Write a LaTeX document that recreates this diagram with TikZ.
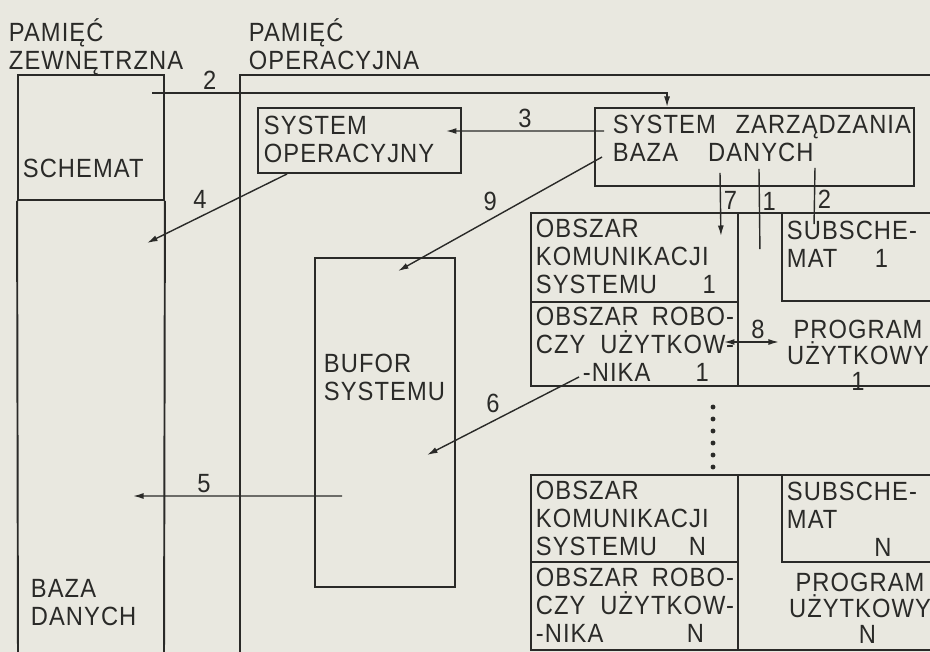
\documentclass[tikz,border=0pt]{standalone}
\usepackage{fontspec}
\setmainfont{Liberation Sans}[LetterSpace=4, FakeStretch=0.9]
\usetikzlibrary{arrows.meta}
\definecolor{paper}{RGB}{233,232,224}
\definecolor{ink}{RGB}{42,42,40}

\begin{document}
\begin{tikzpicture}[x=0.02cm, y=-0.02cm, >={Latex[length=6pt,width=3.4pt]},
        line width=1.1pt, color=ink, font=\fontsize{15}{16}\selectfont,
        box/.style={draw, inner sep=0pt},
        txt/.style={anchor=north west, align=left, inner sep=0pt},
        lab/.style={inner sep=1.5pt},
        conn/.style={line width=0.8pt}]
        \useasboundingbox[fill=paper] (0,0) rectangle (930,652);
        \clip (0,0) rectangle (930,652);

        % Left: external memory
        \node[txt] (tzew) at (8,18) {PAMIĘĆ\\ZEWNĘTRZNA};
        \node[box, minimum width=2.92cm, minimum height=2.5cm] (schemat) at (91,137.5) {};
        \draw (schemat.south west) -- (18,660);
        \draw (schemat.south east) -- (164,660);
        \node[txt] (tschemat) at (22,158) {SCHEMAT};
        \node[txt] (tbaza) at (30,578) {BAZA\\DANYCH};

        % Middle: operational memory
        \node[txt] (toper) at (248,18) {PAMIĘĆ\\OPERACYJNA};
        \draw (240,660) -- (240,75) -- (940,75);
        \node[box, minimum width=4.06cm, minimum height=1.3cm] (sysop) at (359.5,140.5) {};
        \node[txt] (tsysop) at (263,115) {SYSTEM\\OPERACYJNY};
        \node[box, minimum width=6.38cm, minimum height=1.56cm] (dbms) at (754.5,147) {};
        \node[txt, text width=5.96cm] (tdbms) at (612,114) {SYSTEM\hfill ZARZĄDZANIA\\BAZA\hspace{0.6cm}DANYCH};
        \node[box, minimum width=2.8cm, minimum height=6.58cm] (bufor) at (385,422.5) {};
        \node[txt] (tbufor) at (323,353) {BUFOR\\SYSTEMU};

        % Right: user 1
        \node[box, minimum width=8.38cm, minimum height=3.46cm] (blok1) at (740.5,299.5) {};
        \node[box, minimum width=4.14cm, minimum height=1.78cm] (kom1) at (634.5,257.5) {};
        \node[box, minimum width=4.14cm, minimum height=1.68cm] (rob1) at (634.5,344) {};
        \node[box, minimum width=3.36cm, minimum height=1.76cm] (sub1) at (866,257) {};
        \node[txt, text width=3.6cm] (tkom1) at (535,218) {OBSZAR\\KOMUNIKACJI\\SYSTEMU\hfill 1};
        \node[txt, text width=3.96cm] (trob1) at (535,306) {OBSZAR\hfill ROBO-\\CZY\hfill UŻYTKOW-\\\hspace*{0.94cm}-NIKA\hfill 1\hspace*{0.5cm}};
        \node[txt] (tsub1) at (786,220) {SUBSCHE-\\MAT\hspace{0.75cm}1};
        \node[anchor=north, align=center, inner sep=0pt] (tprog1) at (858,319) {PROGRAM\\[-1pt]UŻYTKOWY\\[-1.5pt]1};

        \foreach \y in {407,419,...,467}
            \fill (713,\y) circle (1.4pt);

        % Right: user N
        \node[box, minimum width=8.38cm, minimum height=3.5cm] (blokN) at (740.5,562.5) {};
        \node[box, minimum width=4.14cm, minimum height=1.74cm] (komN) at (634.5,518.5) {};
        \node[box, minimum width=4.14cm, minimum height=1.76cm] (robN) at (634.5,606) {};
        \node[box, minimum width=3.36cm, minimum height=1.74cm] (subN) at (866,518.5) {};
        \node[txt, text width=3.4cm] (tkomN) at (535,480) {OBSZAR\\KOMUNIKACJI\\SYSTEMU\hfill N};
        \node[txt, text width=3.96cm] (trobN) at (535,567) {OBSZAR\hfill ROBO-\\CZY\hfill UŻYTKOW-\\-NIKA\hfill N\hspace*{0.6cm}};
        \node[txt] (tsubN) at (786,481) {SUBSCHE-\\MAT\\\hspace*{1.75cm}N};
        \node[anchor=north, align=center, inner sep=0pt] (tprogN) at (860,572) {PROGRAM\\[-1pt]UŻYTKOWY\\[-1.5pt]\hspace*{0.3cm}N};

        % Connectors
        \coordinate (s2) at (152,93);
        \coordinate (e4) at (147,243);
        \coordinate (e5) at (133,496);
        \draw[conn, ->] (s2) -| ([xshift=1.46cm]dbms.north west) node[lab, pos=0.056, above] (l2) {2};
        \draw[conn, ->] ([xshift=0.2cm,yshift=0.32cm]dbms.west) -- ([xshift=-0.32cm,yshift=0.19cm]sysop.east) node[lab, pos=0.5, above] (l3) {3};
        \draw[conn, ->] ([xshift=0.6cm]sysop.south west) -- (e4) node[lab, pos=0.55, above left] (l4) {4};
        \draw[conn, ->] ([xshift=0.16cm,yshift=-0.2cm]dbms.west) -- ([xshift=0.26cm,yshift=-0.28cm]bufor.north) node[lab, pos=0.5, above left] (l9) {9};
        \draw[conn, ->] ([xshift=0.98cm,yshift=0.2cm]rob1.south west) -- ([xshift=0.84cm,yshift=-0.65cm]bufor.center) node[lab, pos=0.5, above left] (l6) {6};
        \draw[conn, ->] ([xshift=0.56cm,yshift=-1.47cm]bufor.west) -- (e5) node[lab, pos=0.66, above] (l5) {5};
        \draw[conn, ->] ([xshift=-0.69cm,yshift=0.28cm]dbms.south) -- ([xshift=-0.36cm,yshift=-0.48cm]kom1.north east) node[lab, pos=0.44, right] (l7) {7};
        \draw[conn] ([xshift=0.09cm,yshift=0.36cm]dbms.south) -- ([xshift=0.42cm,yshift=-0.74cm]kom1.north east) node[lab, pos=0.4, right] (l1) {1};
        \draw[conn] ([xshift=1.21cm,yshift=0.38cm]dbms.south) -- ([xshift=0.66cm,yshift=-0.24cm]sub1.north west) node[lab, pos=0.55, right] (l2b) {2};
        \draw[conn, <->] ([xshift=-0.3cm,yshift=0.04cm]rob1.east) -- ([xshift=0.8cm,yshift=0.04cm]rob1.east) node[lab, pos=0.62, above] (l8) {8};
\end{tikzpicture}
\end{document}
